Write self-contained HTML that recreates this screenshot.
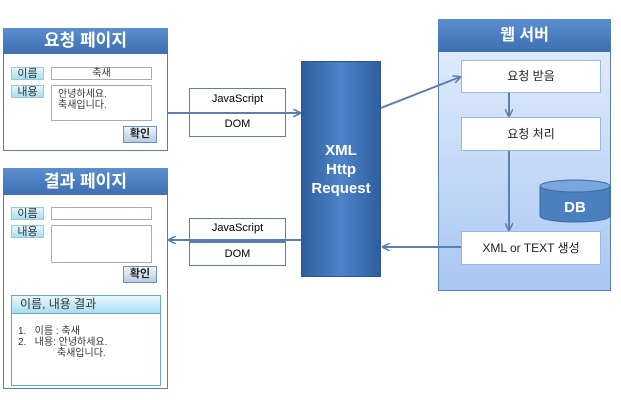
<!DOCTYPE html>
<html><head><meta charset="utf-8"><style>
body{margin:0;width:621px;height:400px;background:#fff;position:relative;overflow:hidden;font-family:"Liberation Sans","Noto Sans CJK KR",sans-serif;}
.a{position:absolute;box-sizing:border-box;}
.panel{border:1px solid #5b7fae;background:#fff;}
.hdr{background:linear-gradient(#5b8fd0,#3e6fb0);color:#fff;font-weight:bold;font-size:17px;text-align:center;}
.lbl{background:linear-gradient(#e6f6fc,#a9def2);border:1px solid #9cc;font-size:11px;text-align:center;line-height:12px;color:#333;}
.inp{border:1px solid #aab;background:#fff;font-size:10px;color:#333;}
.btn{background:linear-gradient(#f0f4fb,#b9cbe6);border:1px solid #6f8fbf;font-size:11px;font-weight:bold;text-align:center;line-height:15px;color:#222;}
.mid{border:1.5px solid #5b7fae;background:#fff;font-size:11px;text-align:center;color:#222;}
.sbox{background:#fff;border:1px solid #9bb8de;font-size:12px;text-align:center;color:#222;}
</style></head><body>
<!-- request page -->
<div class="a panel" style="left:3px;top:28px;width:165px;height:123px;"></div>
<div class="a hdr" style="left:3px;top:28px;width:165px;height:26px;line-height:26px;">요청 페이지</div>
<div class="a lbl" style="left:11px;top:67px;width:33px;height:13px;">이름</div>
<div class="a inp" style="left:51px;top:67px;width:101px;height:13px;text-align:center;line-height:11px;">축새</div>
<div class="a lbl" style="left:11px;top:85px;width:33px;height:13px;">내용</div>
<div class="a inp" style="left:51px;top:85px;width:101px;height:36px;padding:3px 0 0 6px;line-height:11px;">안녕하세요.<br>축새입니다.</div>
<div class="a btn" style="left:123px;top:126px;width:34px;height:17px;">확인</div>
<!-- result page -->
<div class="a panel" style="left:3px;top:168px;width:165px;height:221px;"></div>
<div class="a hdr" style="left:3px;top:168px;width:165px;height:27px;line-height:27px;">결과 페이지</div>
<div class="a lbl" style="left:11px;top:207px;width:33px;height:13px;">이름</div>
<div class="a inp" style="left:51px;top:207px;width:101px;height:13px;"></div>
<div class="a lbl" style="left:11px;top:225px;width:33px;height:13px;">내용</div>
<div class="a inp" style="left:51px;top:225px;width:101px;height:38px;"></div>
<div class="a btn" style="left:123px;top:266px;width:34px;height:17px;">확인</div>
<div class="a" style="left:11px;top:295px;width:150px;height:91px;border:1px solid #6aa7c4;background:#fff;"></div>
<div class="a" style="left:11px;top:295px;width:150px;height:19px;background:linear-gradient(#e8f7fc,#a9def2);border:1px solid #6aa7c4;font-size:12px;line-height:17px;padding-left:8px;color:#333;">이름, 내용 결과</div>
<div class="a" style="left:18px;top:326px;font-size:10px;line-height:11px;color:#333;white-space:pre;">1.   이름 : 축새
2.   내용: 안녕하세요.
              축새입니다.</div>
<!-- mid boxes -->
<div class="a mid" style="left:189px;top:88px;width:97px;height:49px;"></div>
<div class="a" style="left:189px;top:112px;width:97px;height:1.5px;background:#5b7fae;"></div>
<div class="a" style="left:189px;top:93px;width:97px;font-size:11px;text-align:center;">JavaScript</div>
<div class="a" style="left:189px;top:118px;width:97px;font-size:11px;text-align:center;">DOM</div>
<div class="a mid" style="left:189px;top:218px;width:97px;height:48px;"></div>
<div class="a" style="left:189px;top:241px;width:97px;height:1.5px;background:#5b7fae;"></div>
<div class="a" style="left:189px;top:222px;width:97px;font-size:11px;text-align:center;">JavaScript</div>
<div class="a" style="left:189px;top:248px;width:97px;font-size:11px;text-align:center;">DOM</div>
<!-- XHR -->
<div class="a" style="left:301px;top:61px;width:80px;height:216px;background:linear-gradient(90deg,#2f5e9f,#4d84c8 50%,#2f5e9f);border:1px solid #2a5590;color:#fff;font-weight:bold;font-size:15px;text-align:center;line-height:19px;padding-top:79px;">XML<br>Http<br>Request</div>
<!-- web server -->
<div class="a" style="left:438px;top:19px;width:173px;height:272px;background:linear-gradient(#e6efff,#a9c7f0);border:1px solid #5b7fae;"></div>
<div class="a hdr" style="left:438px;top:19px;width:173px;height:33px;line-height:33px;font-size:16px;">웹 서버</div>
<div class="a sbox" style="left:461px;top:60px;width:140px;height:33px;line-height:31px;">요청 받음</div>
<div class="a sbox" style="left:461px;top:117px;width:140px;height:34px;line-height:32px;">요청 처리</div>
<div class="a sbox" style="left:461px;top:231px;width:140px;height:34px;line-height:32px;">XML or TEXT 생성</div>
<svg class="a" style="left:0;top:0" width="621" height="400">
<defs><marker id="m" markerWidth="8" markerHeight="8" refX="7" refY="4" orient="auto" markerUnits="userSpaceOnUse"><path d="M0,0 L8,4 L0,8" fill="none" stroke="#5b7fae" stroke-width="1.6"/></marker></defs>
<g stroke="#5b7fae" stroke-width="2" fill="none">
<line x1="168" y1="113" x2="300" y2="113" marker-end="url(#m)"/>
<line x1="381" y1="108" x2="460" y2="77" marker-end="url(#m)"/>
<line x1="509" y1="93" x2="509" y2="116" marker-end="url(#m)"/>
<line x1="509" y1="151" x2="509" y2="230" marker-end="url(#m)"/>
<line x1="461" y1="247" x2="383" y2="247" marker-end="url(#m)"/>
<line x1="301" y1="240" x2="169" y2="240" marker-end="url(#m)"/>
</g>
<path d="M540,186 L540,216 A35,6 0 0 0 610,216 L610,186" fill="#4a7fc0" stroke="#3d6aa5"/>
<ellipse cx="575" cy="186" rx="35" ry="6" fill="#7aa6dc" stroke="#3d6aa5"/>
<text x="575" y="212" font-family="Liberation Sans" font-weight="bold" font-size="15" fill="#fff" text-anchor="middle">DB</text>
</svg>
</body></html>
